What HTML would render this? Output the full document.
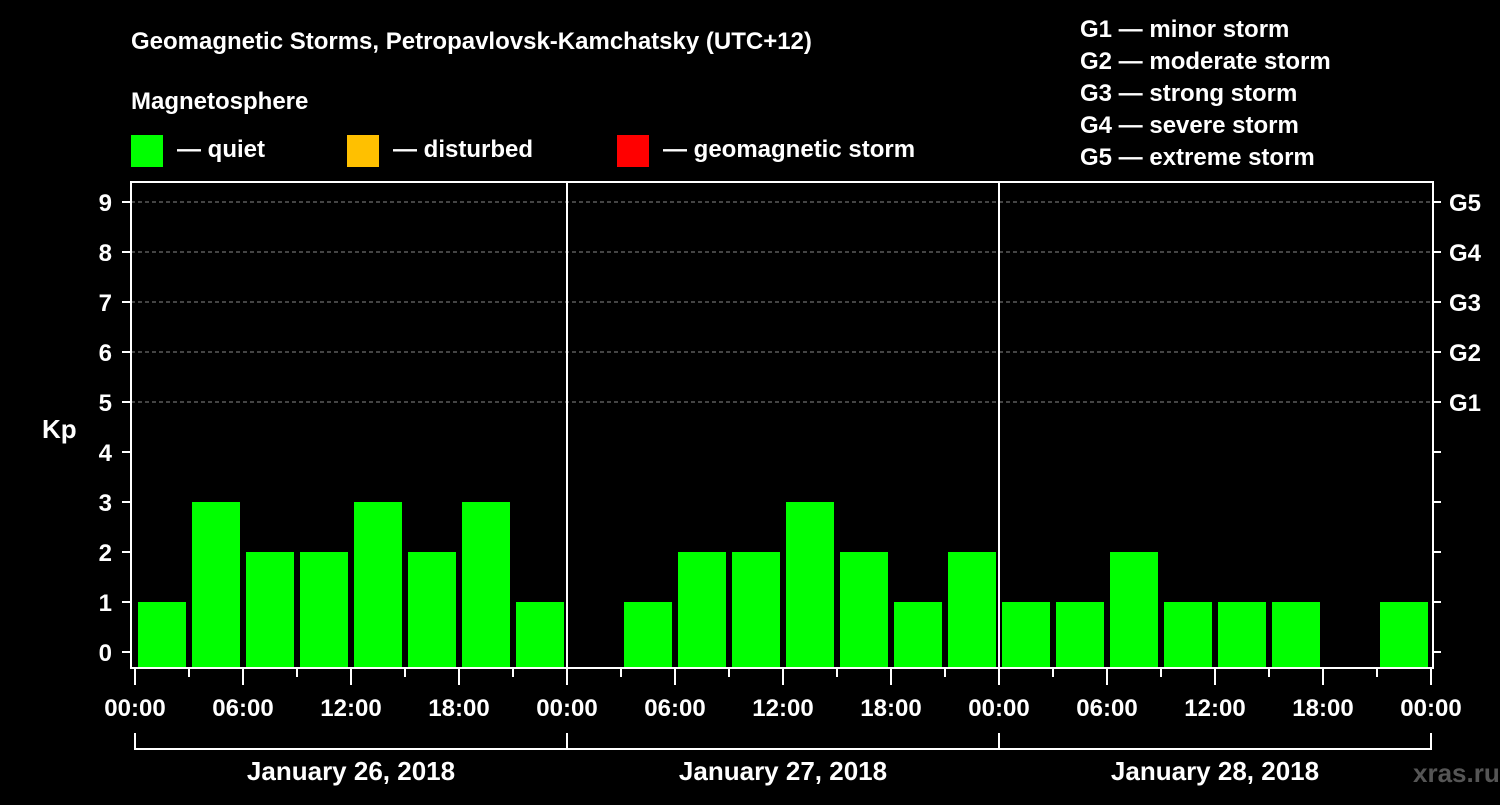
<!DOCTYPE html>
<html><head><meta charset="utf-8"><style>
body{margin:0;background:#000;width:1500px;height:800px;overflow:hidden}
svg text{font-family:"Liberation Sans",sans-serif;font-weight:bold;fill:#fff}
</style></head><body>
<svg width="1500" height="800" xmlns="http://www.w3.org/2000/svg">
<text x="131" y="49" font-size="24">Geomagnetic Storms, Petropavlovsk-Kamchatsky (UTC+12)</text>
<text x="131" y="109" font-size="24">Magnetosphere</text>
<g><rect x="131" y="135" width="32" height="32" fill="#00ff00"/><text x="177" y="157" font-size="24">— quiet</text></g>
<g><rect x="347" y="135" width="32" height="32" fill="#ffc000"/><text x="393" y="157" font-size="24">— disturbed</text></g>
<g><rect x="617" y="135" width="32" height="32" fill="#ff0000"/><text x="663" y="157" font-size="24">— geomagnetic storm</text></g>
<g font-size="24">
<text x="1080" y="37">G1 — minor storm</text><text x="1080" y="69">G2 — moderate storm</text><text x="1080" y="101">G3 — strong storm</text><text x="1080" y="133">G4 — severe storm</text><text x="1080" y="165">G5 — extreme storm</text></g>
<text x="42" y="438" font-size="26">Kp</text>
<text x="1413" y="782" font-size="26" fill="#555" style="fill:#555">xras.ru</text>
<g id="plot"></g>
</svg>
<script>
const values=[1,3,2,2,3,2,3,1, 0,1,2,2,3,2,1,2, 1,1,2,1,1,1,0,1];
const dates=["January 26, 2018","January 27, 2018","January 28, 2018"];
const yTicks=[0,1,2,3,4,5,6,7,8,9];
const gLabels=["G1","G2","G3","G4","G5"];
const timeLabels=["00:00","06:00","12:00","18:00"];
const NS="http://www.w3.org/2000/svg";
const g=document.getElementById('plot');
const X0=135,HPX=18,L=131,R=1433,T=182,B=668;
const x=h=>X0+h*HPX, y=v=>652-50*v;
function el(t,a){const e=document.createElementNS(NS,t);for(const k in a)e.setAttribute(k,a[k]);g.appendChild(e);return e;}
yTicks.forEach(v=>{
 if(v>=5){const l=el('line',{x1:L,x2:R,y1:y(v),y2:y(v),stroke:'#888','stroke-dasharray':'4,3'});
 
 }
 el('line',{x1:122,x2:L,y1:y(v),y2:y(v),stroke:'#fff','stroke-width':2});
 el('line',{x1:R,x2:1441,y1:y(v),y2:y(v),stroke:'#fff','stroke-width':2});
 const t=el('text',{x:112,y:y(v)+9,'font-size':24,'text-anchor':'end'});t.textContent=v;
 
 
});
gLabels.forEach((s,i)=>{const t=el('text',{x:1449,y:y(5+i)+9,'font-size':24});t.textContent=s;
 
 });
values.forEach((v,i)=>{if(v<=0)return;
 const r=el('rect',{x:x(i*3)+3,y:y(v),width:48,height:B-y(v),fill:'#00ff00'});
 
 });
el('rect',{x:L,y:T,width:R-L,height:B-T,fill:'none',stroke:'#fff','stroke-width':2});
dates.forEach((d,k)=>{if(k>0)el('line',{x1:x(k*24),x2:x(k*24),y1:T,y2:B,stroke:'#fff','stroke-width':2});
 const t=el('text',{x:x(k*24+12),y:780,'font-size':26,'text-anchor':'middle'});t.textContent=d;
 
 
 el('line',{x1:x(k*24),x2:x(k*24+24),y1:749,y2:749,stroke:'#fff','stroke-width':2});
 el('line',{x1:x(k*24),x2:x(k*24),y1:733,y2:750,stroke:'#fff','stroke-width':2});
});
el('line',{x1:x(72),x2:x(72),y1:733,y2:750,stroke:'#fff','stroke-width':2});
for(let h=0;h<=72;h+=3){const major=h%6===0;
 el('line',{x1:x(h),x2:x(h),y1:B,y2:major?685:677,stroke:'#fff','stroke-width':2});
 if(major){const t=el('text',{x:x(h),y:716,'font-size':24,'text-anchor':'middle'});t.textContent=timeLabels[(h/6)%4];
 
 }
}
</script>
</body></html>
